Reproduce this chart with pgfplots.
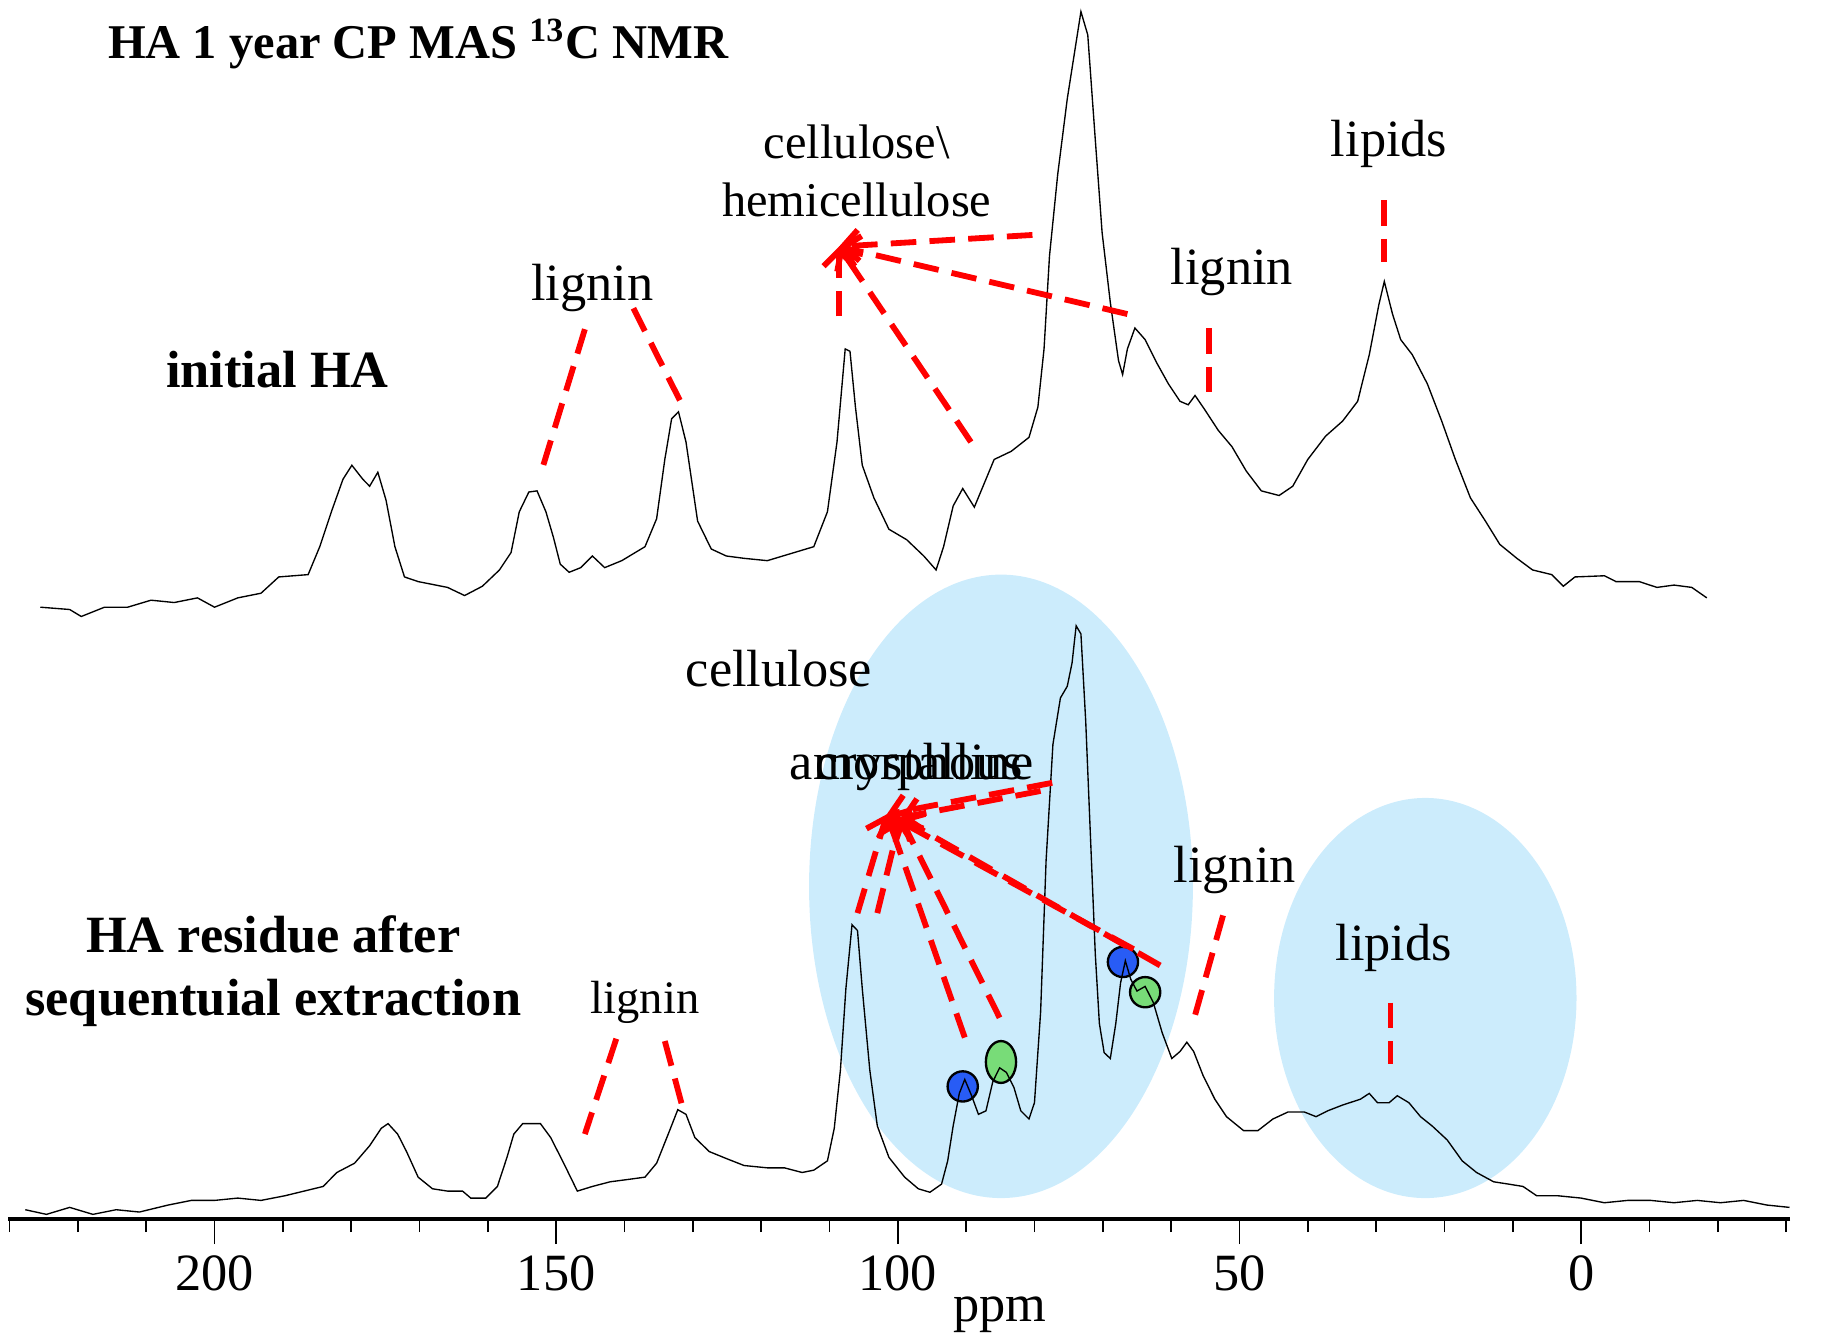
\documentclass[border=0pt]{standalone}
\usepackage{fontspec}
\setmainfont{Liberation Serif}
\usepackage{pgfplots}
\pgfplotsset{compat=1.18}
\usetikzlibrary{arrows.meta,shapes.geometric}

\definecolor{ellblue}{RGB}{204,236,252}
\definecolor{dotblue}{RGB}{40,92,245}
\definecolor{dotgreen}{RGB}{120,220,120}

\tikzset{
  ann/.style={red, line width=1.5pt, dash pattern=on 6.6pt off 3.4pt},
  arr/.style={ann, -{Straight Barb[length=4pt,width=8pt,line width=1.5pt]}},
  lab/.style={font=\fontsize{13.5}{16}\selectfont, inner sep=0pt},
}

\begin{document}
\begin{tikzpicture}
\begin{axis}[
    scale only axis,
    width=459.6pt, height=314.4pt,
    xmin=-30.6, xmax=230.2, x dir=reverse,
    ymin=0, ymax=1048,
    axis y line=none,
    axis x line*=bottom,
    axis line style={line width=0.9pt},
    xtick={200,150,100,50,0},
    minor xtick={230,220,...,-30},
    tick align=outside,
    major tick length=6.5pt,
    minor tick length=3.4pt,
    every tick/.style={black, line width=0.4pt},
    tick label style={font=\fontsize{13.5}{16}\selectfont},
    /pgf/number format/assume math mode=true,
    xticklabel style={yshift=0.5pt},
    clip=false,
]
% page extent
\path (axis cs:231.4,1048) rectangle (axis cs:-35.4,-105);

% highlighted regions
\fill[ellblue] (axis cs:84.9,286) ellipse [x radius=49.5pt, y radius=80.4pt];
\fill[ellblue] (axis cs:22.8,190) ellipse [x radius=39pt, y radius=51.6pt];

% marked peaks
\node[circle, draw=black, line width=0.6pt, fill=dotblue, minimum size=7.8pt, inner sep=0pt] at (axis cs:90.5,114) {};
\node[ellipse, draw=black, line width=0.6pt, fill=dotgreen, minimum width=7.8pt, minimum height=10.8pt, inner sep=0pt] at (axis cs:84.9,135) {};
\node[circle, draw=black, line width=0.6pt, fill=dotblue, minimum size=7.8pt, inner sep=0pt] at (axis cs:67.05,221) {};
\node[circle, draw=black, line width=0.6pt, fill=dotgreen, minimum size=7.8pt, inner sep=0pt] at (axis cs:63.8,195) {};

% initial HA
\addplot[black, line width=0.35pt] coordinates {
(225.5,526) (221.2,524) (219.5,518) (216.1,526) (212.7,526) (209.3,532)
(205.9,530) (202.5,534) (200.0,526) (196.6,534) (193.2,538) (190.6,552)
(186.3,554) (184.6,578) (182.9,608) (181.2,636) (179.9,648) (178.3,636)
(177.3,630) (176.1,642) (174.9,618) (173.6,578) (172.2,552) (170.2,548)
(165.9,543) (163.4,536) (160.8,544) (158.3,558) (156.6,573) (155.4,608)
(154.0,625) (152.8,626) (151.5,608) (150.4,586) (149.4,563) (148.1,556)
(146.4,560) (144.7,570) (142.9,560) (140.4,566) (137.0,578) (135.3,602)
(134.1,653) (133.1,688) (132.1,694) (131.0,668) (130.0,628) (129.3,600)
(127.3,576) (125.1,570) (122.5,568) (119.1,566) (115.7,572) (112.3,578)
(110.3,608) (108.9,668) (107.7,748) (107.0,746) (106.2,698) (105.2,648)
(103.5,620) (101.3,593) (98.7,584) (96.2,570) (94.4,558) (93.3,578)
(91.9,613) (90.5,628) (88.8,612) (87.1,636) (85.9,653) (83.4,660)
(80.8,672) (79.5,698) (78.6,748) (77.8,828) (76.6,898) (75.2,963)
(74.0,1008) (73.2,1038) (72.2,1018) (71.1,928) (70.1,848) (68.9,788)
(67.7,738) (67.1,726) (66.4,748) (65.3,766) (63.8,756) (62.1,736)
(60.4,718) (58.7,703) (57.5,700) (56.5,708) (55.1,696) (53.1,678)
(51.1,664) (49.0,643) (46.8,626) (44.2,622) (42.2,630) (40.0,653)
(37.4,673) (34.9,686) (32.7,703) (31.0,743) (29.6,786) (28.8,806)
(27.6,778) (26.4,756) (24.7,743) (22.5,718) (20.4,686) (18.4,653)
(16.2,620) (14.0,600) (11.9,580) (9.4,568) (7.1,558) (4.3,554)
(2.6,544) (0.9,552) (-3.4,553) (-5.1,548) (-8.5,548) (-11.1,543)
(-13.6,545) (-16.2,543) (-18.4,534)
};

% residue after sequential extraction
\addplot[black, line width=0.35pt] coordinates {
(227.7,8) (224.6,4) (221.2,10) (217.8,4) (214.4,8) (211.0,6)
(206.8,12) (203.4,16) (200.0,16) (196.6,18) (193.2,16) (189.7,20)
(186.9,24) (184.1,28) (182.1,40) (179.5,48) (177.3,63) (175.6,78)
(174.6,82) (173.2,73) (171.9,58) (170.2,36) (168.1,26) (165.9,24)
(163.7,24) (162.5,18) (160.3,18) (158.6,28) (157.2,53) (156.2,73)
(154.9,82) (152.3,82) (150.8,70) (148.9,48) (146.9,24) (144.7,28)
(142.1,32) (139.5,34) (137.0,36) (135.3,48) (133.6,73) (132.2,94)
(131.0,90) (129.7,70) (127.6,58) (125.1,52) (122.5,46) (119.1,44)
(116.6,44) (114.0,40) (112.3,42) (110.3,50) (109.3,78) (108.4,128)
(107.6,198) (106.7,253) (105.9,248) (105.2,198) (104.1,128) (103.0,80)
(101.3,53) (99.0,36) (97.0,26) (95.3,23) (93.6,30) (92.7,50)
(91.9,80) (91.0,108) (90.2,120) (89.2,106) (88.2,90) (87.1,93)
(86.1,118) (85.1,130) (84.1,126) (83.0,113) (82.0,93) (80.8,86)
(80.0,100) (79.1,178) (78.3,308) (77.3,408) (76.2,448) (75.2,458)
(74.5,478) (73.9,510) (73.2,503) (72.5,428) (71.8,328) (71.1,228)
(70.5,168) (69.8,143) (68.9,138) (68.1,168) (67.4,203) (66.7,222)
(65.9,206) (65.0,196) (63.8,200) (62.6,186) (61.3,160) (59.9,138)
(58.7,144) (57.7,152) (56.7,144) (55.3,123) (53.6,103) (51.9,88)
(49.4,76) (47.3,76) (45.1,86) (42.9,92) (40.5,92) (38.8,88)
(37.1,93) (34.9,98) (32.3,103) (31.0,108) (29.8,100) (28.1,100)
(26.9,106) (25.2,100) (23.5,88) (21.8,80) (19.6,68) (17.4,50)
(15.3,40) (12.8,32) (10.6,30) (8.5,28) (6.5,20) (3.4,20)
(0.0,18) (-3.4,14) (-6.8,16) (-10.2,16) (-13.6,14) (-17.0,16)
(-20.4,14) (-23.8,16) (-27.2,12) (-30.5,10)
};

% axis title
\node[lab] at (axis cs:85.1,-82) {ppm};

% headings
\node[font=\fontsize{12.5}{15}\selectfont\bfseries, inner sep=0pt] at (axis cs:170.2,1010) {HA 1 year CP MAS \textsuperscript{13}C NMR};
\node[lab, font=\fontsize{13.5}{16}\selectfont\bfseries] at (axis cs:190.8,730) {initial HA};
\node[lab, font=\fontsize{13.5}{16.2}\selectfont\bfseries, align=center] at (axis cs:191.4,213) {HA residue after\\sequentuial extraction};

% annotations, initial HA
\node[lab] at (axis cs:144.7,800) {lignin};
\draw[ann] (axis cs:145.8,765) -- (axis cs:152.3,640);
\draw[ann] (axis cs:138.7,783) -- (axis cs:131.4,698);
\node[lab, font=\fontsize{12.5}{15}\selectfont, align=center] at (axis cs:106.0,901) {cellulose\textbackslash\\hemicellulose};
\draw[arr] (axis cs:80.3,846) -- (axis cs:108.6,836);
\draw[arr] (axis cs:108.6,776) -- (axis cs:108.6,836);
\draw[arr] (axis cs:89.3,668) -- (axis cs:108.6,836);
\draw[arr] (axis cs:66.4,778) -- (axis cs:108.6,836);
\node[lab] at (axis cs:51.1,814) {lignin};
\draw[ann] (axis cs:54.5,766) -- (axis cs:54.5,710);
\node[lab] at (axis cs:28.1,924) {lipids};
\draw[ann] (axis cs:28.8,876) -- (axis cs:28.8,823);

% annotations, residue
\node[lab] at (axis cs:117.4,473) {cellulose};
\draw[arr] (axis cs:77.4,375) -- (axis cs:101.6,348);
\draw[arr] (axis cs:105.9,263) -- (axis cs:101.6,348);
\draw[arr] (axis cs:90.2,156) -- (axis cs:101.6,348);
\draw[arr] (axis cs:65.5,232) -- (axis cs:101.6,348);
\draw[arr] (axis cs:79.1,368) -- (axis cs:99.6,345);
\draw[arr] (axis cs:103.0,263) -- (axis cs:99.6,345);
\draw[arr] (axis cs:85.1,173) -- (axis cs:99.6,345);
\draw[arr] (axis cs:61.6,218) -- (axis cs:99.6,345);
\node[lab, anchor=base west] at (axis cs:115.9,378) {amorphous};
\node[lab, anchor=base west] at (axis cs:112.1,378) {crystalline};
\node[lab, font=\fontsize{12}{14}\selectfont] at (axis cs:137.0,186) {lignin};
\draw[ann] (axis cs:141.2,155) -- (axis cs:145.8,73);
\draw[ann] (axis cs:134.1,153) -- (axis cs:131.5,96);
\node[lab] at (axis cs:50.7,300) {lignin};
\draw[ann] (axis cs:52.4,261) -- (axis cs:56.7,171);
\node[lab] at (axis cs:27.4,233) {lipids};
\draw[ann] (axis cs:27.9,186) -- (axis cs:27.9,133);
\end{axis}
\end{tikzpicture}
\end{document}
